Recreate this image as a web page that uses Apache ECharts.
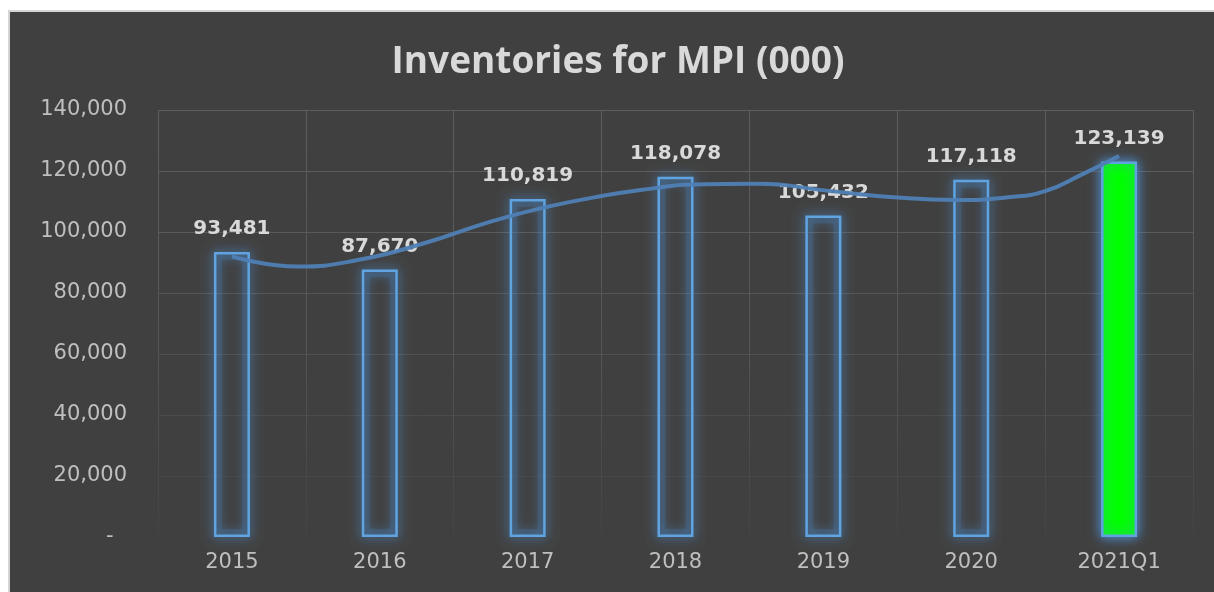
<!DOCTYPE html>
<html>
<head>
    <meta charset="UTF-8">
    <title>Inventories for MPI</title>
    <script src="https://cdn.jsdelivr.net/npm/echarts@6/dist/echarts.min.js"></script>
    <style>
        html, body { margin: 0; height: 100%; background: #fff; overflow: hidden; }
        #main {
            position: absolute; left: 8px; top: 10px;
            width: 1206px; height: 582px; box-sizing: border-box;
            border-left: 2px solid #d4d4d4; border-top: 2px solid #d4d4d4;
        }
    </style>
</head>
<body>
    <div id="main"></div>
    <script>
        // 数据
        var categories = ['2015', '2016', '2017', '2018', '2019', '2020', '2021Q1'];
        var inventories = [93481, 87670, 110819, 118078, 105432, 117118, 123139];
        // trend line (position in category units, centre of 2015 = 0.5)
        var trendPos = [0.5, 0.95, 1.35, 1.8, 2.25, 2.6, 3.0, 3.35, 3.6, 4.05, 4.55, 5.0, 5.4, 5.75, 6.0, 6.25, 6.5];
        var trendVal = [92000, 88700, 90800, 96300, 103400, 107900, 111800, 114300, 115600, 115800, 113400, 111300, 110500, 111400, 113400, 118900, 124900];

        var trendData = trendPos.map(function (p, i) { return [p, trendVal[i]]; });
        var barData = inventories.map(function (v, i) {
            return {
                value: v,
                itemStyle: { color: i === inventories.length - 1 ? '#00ff00' : 'rgba(0,0,0,0)' }
            };
        });

        var myChart = echarts.init(document.getElementById('main'));

        var option = {
            backgroundColor: '#404040',
            animation: false,
            title: {
                text: 'Inventories for MPI (000)',
                left: 603,
                top: 27,
                textAlign: 'center',
                textStyle: {
                    color: '#d9d9d9',
                    fontFamily: 'Open Sans',
                    fontWeight: 'bold',
                    fontSize: 37
                }
            },
            grid: { left: 148, right: 21, top: 98, bottom: 55 },
            xAxis: [{
                type: 'category',
                data: categories,
                boundaryGap: true,
                axisLine: { show: false },
                axisTick: { show: false },
                axisLabel: {
                    color: '#bfbfbf',
                    fontFamily: 'DejaVu Sans',
                    fontSize: 21,
                    margin: 15
                },
                splitLine: {
                    show: true,
                    lineStyle: {
                        width: 1,
                        color: new echarts.graphic.LinearGradient(0, 0, 0, 1, [
                            { offset: 0, color: '#5e5e5e' },
                            { offset: 0.6, color: '#545454' },
                            { offset: 1, color: '#434343' }
                        ])
                    }
                }
            }, {
                type: 'value',
                min: 0,
                max: 7,
                show: false
            }],
            yAxis: {
                type: 'value',
                min: 0,
                max: 140000,
                interval: 20000,
                axisLine: { show: false },
                axisTick: { show: false },
                axisLabel: {
                    color: '#bfbfbf',
                    fontFamily: 'DejaVu Sans',
                    fontSize: 21,
                    margin: 31,
                    formatter: function (v) {
                        return v === 0 ? '-  ' : v.toLocaleString('en-US');
                    }
                },
                splitLine: {
                    lineStyle: {
                        width: 1,
                        color: ['#404040', '#464646', '#4b4b4b', '#515151', '#565656', '#5a5a5a', '#5c5c5c', '#5e5e5e']
                    }
                }
            },
            series: [{
                // soft glow behind the bars
                name: 'glow',
                type: 'bar',
                data: inventories,
                barWidth: 36,
                barGap: '-100%',
                silent: true,
                itemStyle: {
                    color: 'rgba(0,0,0,0)',
                    borderColor: 'rgba(75,145,215,0.16)',
                    borderWidth: 8,
                    shadowBlur: 12,
                    shadowColor: 'rgba(75,145,215,1)'
                },
                z: 1
            }, {
                name: 'Inventories',
                type: 'bar',
                data: barData,
                barWidth: 36,
                barGap: '-100%',
                itemStyle: {
                    borderColor: '#5fa3e0',
                    borderWidth: 2.5,
                    shadowBlur: 12,
                    shadowColor: 'rgba(80,150,220,1)'
                },
                label: {
                    show: true,
                    position: 'top',
                    distance: 13,
                    color: '#d9d9d9',
                    fontFamily: 'DejaVu Sans',
                    fontWeight: 'bold',
                    fontSize: 20,
                    formatter: function (p) { return p.value.toLocaleString('en-US'); }
                },
                z: 2
            }, {
                name: 'Trend',
                type: 'line',
                xAxisIndex: 1,
                data: trendData,
                smooth: true,
                symbol: 'none',
                lineStyle: { color: '#4f80b5', width: 4, opacity: 0.95 },
                z: 3
            }]
        };

        myChart.setOption(option);
        window.addEventListener('resize', function () { myChart.resize(); });
    </script>
</body>
</html>
